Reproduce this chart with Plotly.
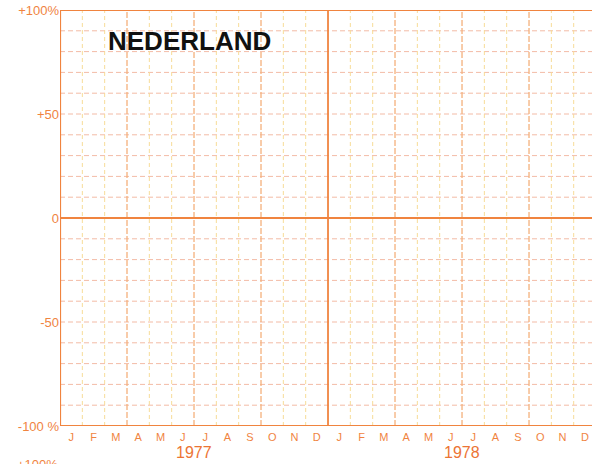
import plotly.graph_objects as go

# ---- data (labels only; the sheet is an empty grid) ----
years = ["1977", "1978"]
months = ["J", "F", "M", "A", "M", "J", "J", "A", "S", "O", "N", "D"]
y_tick_values = [-100, -50, 0, 50, 100]
y_tick_labels = ["-100 %", "-50", "0", "+50", "+100%"]
y_grid_step = 10
title_text = "NEDERLAND"
next_chart_label = "+100%"

ORANGE = "#f0843f"
QUARTER = "#f4b07c"
MONTH = "#f7dc98"
HGRID = "#f3bba6"

n_months = len(months) * len(years)
month_centers = [i + 0.5 for i in range(n_months)]
month_text = months * len(years)

fig = go.Figure()
# invisible trace to establish axes
fig.add_trace(go.Scatter(x=[0, n_months], y=[-100, 100], mode="markers",
                         marker=dict(opacity=0), hoverinfo="skip", showlegend=False))

shapes = []
# horizontal grid every 10 %
for v in range(-100 + y_grid_step, 100, y_grid_step):
    if v == 0:
        continue
    shapes.append(dict(type="line", xref="x", yref="y", x0=0, x1=n_months, y0=v, y1=v,
                       line=dict(color=HGRID, width=1, dash="5px,3px"), layer="below"))
# vertical month lines
for m in range(1, n_months):
    if m % 12 == 0:
        continue
    if m % 3 == 0:
        col, w, d = QUARTER, 1.3, "6px,2px"
    else:
        col, w, d = MONTH, 1, "4px,3px"
    shapes.append(dict(type="line", xref="x", yref="y", x0=m, x1=m, y0=-100, y1=100,
                       line=dict(color=col, width=w, dash=d), layer="below"))
# strong lines: zero, borders, year separators
shapes.append(dict(type="line", xref="x", yref="y", x0=0, x1=n_months, y0=0, y1=0,
                   line=dict(color=ORANGE, width=2)))
shapes.append(dict(type="line", xref="x", yref="y", x0=0, x1=n_months, y0=100, y1=100,
                   line=dict(color=ORANGE, width=2.2)))
shapes.append(dict(type="line", xref="x", yref="y", x0=0, x1=n_months, y0=-100, y1=-100,
                   line=dict(color=ORANGE, width=2.2)))
shapes.append(dict(type="line", xref="x", yref="y", x0=0, x1=0, y0=-100, y1=100,
                   line=dict(color=ORANGE, width=2.2)))
for k in range(1, len(years)):
    shapes.append(dict(type="line", xref="x", yref="y", x0=12 * k, x1=12 * k, y0=-100, y1=100,
                       line=dict(color=ORANGE, width=1.8)))

annotations = []
for k, yr in enumerate(years):
    annotations.append(dict(x=12 * k + 6, xref="x", y=0, yref="paper", yshift=-26,
                            text=yr, showarrow=False, yanchor="middle",
                            font=dict(family="Liberation Sans", size=16, color="#ec7434")))
annotations.append(dict(x=0.244, xref="paper", y=0.925, yref="paper", text=title_text,
                        showarrow=False, xanchor="center", yanchor="middle",
                        font=dict(family="Liberation Sans", size=26, color="#111111", weight=700)))
annotations.append(dict(x=-0.043, xref="paper", y=0, yref="paper", yshift=-38,
                        text=next_chart_label, showarrow=False, xanchor="center", yanchor="middle",
                        font=dict(family="Liberation Sans", size=13, color=ORANGE)))

fig.update_layout(
    width=592, height=464,
    margin=dict(l=60, r=0, t=10, b=38),
    paper_bgcolor="white", plot_bgcolor="white",
    shapes=shapes, annotations=annotations, showlegend=False,
    xaxis=dict(range=[0, 23.82], tickvals=month_centers, ticktext=month_text,
               showgrid=False, zeroline=False, ticks="", showline=False,
               ticklabelstandoff=3,
               tickfont=dict(family="Liberation Sans", size=11, color=ORANGE)),
    yaxis=dict(range=[-100, 100], tickvals=y_tick_values, ticktext=y_tick_labels,
               showgrid=False, zeroline=False, ticks="", showline=False,
               tickfont=dict(family="Liberation Sans", size=13, color=ORANGE)),
)

# remove the browser's default body margin so the figure fills the window exactly
fig.write_html("out.html",
               config={"displayModeBar": False},
               post_script="document.body.style.margin='0';document.body.style.overflow='hidden';")
